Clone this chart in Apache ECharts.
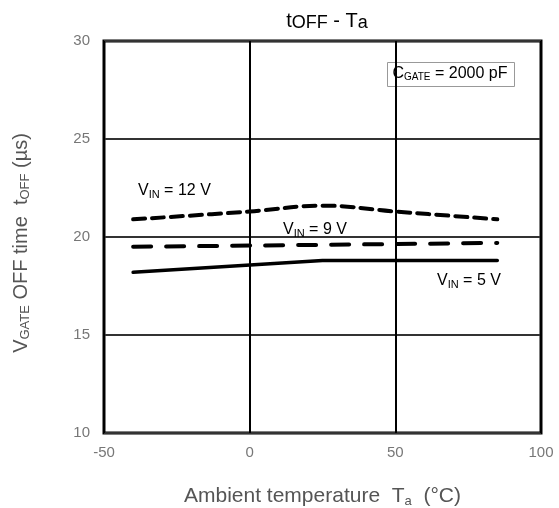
<!DOCTYPE html>
<html><head><meta charset="utf-8">
<script src="https://cdn.jsdelivr.net/npm/echarts@6/dist/echarts.min.js"></script>
<style>html,body{margin:0;padding:0;background:#fff}#c{width:559px;height:508px}</style>
</head><body><div id="c"></div>
<script>
const temps12 = [-40, 0, 25, 50, 85];
const vin12 = [20.9, 21.3, 21.6, 21.3, 20.9];
const temps9 = [-40, 25, 85];
const vin9 = [19.5, 19.6, 19.7];
const temps5 = [-40, 25, 85];
const vin5 = [18.2, 18.8, 18.8];
const xTicks = [-50, 0, 50, 100];
const yTicks = [10, 15, 20, 25, 30];

const F = 'Liberation Sans, Arial, sans-serif';
function pairs(xs, ys){ return xs.map((x,i)=>[x, ys[i]]); }

const chart = echarts.init(document.getElementById('c'), null, {renderer:'canvas'});
const lbl = (txt) => ({
  type:'text', z:100,
  style:{ text: txt, fontFamily:F,
    rich:{ n:{fontSize:16, lineHeight:18, color:'#111', fontFamily:F},
           s:{fontSize:11, lineHeight:11, verticalAlign:'bottom', padding:[11,0,0,0], color:'#111', fontFamily:F} } }
});
chart.setOption({
  animation:false,
  backgroundColor:'#fff',
  title:{
    text:'{n|t}{s|OFF}{n| - T}{s|a}',
    left:322, top:5, textAlign:'center',
    textStyle:{ fontWeight:'normal', rich:{
      n:{fontSize:20, lineHeight:22, color:'#000', fontFamily:F, fontWeight:'normal'},
      s:{fontSize:18, lineHeight:18, verticalAlign:'bottom', padding:[8,0,0,0], color:'#000', fontFamily:F, fontWeight:'normal'}
    }}
  },
  grid:{ left:104, right:18, top:41, bottom:75, outerBoundsMode:'none', containLabel:false,
    show:true, borderColor:'#000', borderWidth:3, backgroundColor:'transparent' },
  xAxis:{
    type:'value', min:xTicks[0], max:xTicks[xTicks.length-1], interval:50,
    axisLine:{show:false}, axisTick:{show:false},
    axisLabel:{ color:'#777', fontSize:15, fontFamily:F, margin:12 },
    splitLine:{ lineStyle:{ color:'#000', width:2 } },
    name:'{n|Ambient temperature  T}{s|a}{n|  (°C)}',
    nameLocation:'middle', nameGap:52,
    nameTextStyle:{ rich:{
      n:{fontSize:21, lineHeight:23, color:'#555', fontFamily:F, letterSpacing:0.6},
      s:{fontSize:13, lineHeight:13, verticalAlign:'bottom', padding:[14,0,0,0], color:'#555', fontFamily:F}
    }}
  },
  yAxis:{
    type:'value', min:yTicks[0], max:yTicks[yTicks.length-1], interval:5,
    axisLine:{show:false}, axisTick:{show:false},
    axisLabel:{ color:'#777', fontSize:15, fontFamily:F, margin:14 },
    splitLine:{ lineStyle:{ color:'#333', width:1.8 } },
    name:'{n|V}{s|GATE}{n| OFF time  t}{s|OFF}{n| (µs)}',
    nameLocation:'middle', nameGap:72, nameRotate:90,
    nameTextStyle:{ padding:[0,12,0,0], rich:{
      n:{fontSize:20, lineHeight:22, color:'#555', fontFamily:F},
      s:{fontSize:13, lineHeight:13, verticalAlign:'bottom', padding:[13,0,0,0], color:'#555', fontFamily:F}
    }}
  },
  series:[
    { name:'VIN = 12 V', type:'line', smooth:0.4, symbol:'none', data:pairs(temps12, vin12),
      lineStyle:{ color:'#000', width:4, type:[12,7], cap:'round' } },
    { name:'VIN = 9 V', type:'line', symbol:'none', data:pairs(temps9, vin9),
      lineStyle:{ color:'#000', width:4, type:[18,15], cap:'round' } },
    { name:'VIN = 5 V', type:'line', symbol:'none', data:pairs(temps5, vin5),
      lineStyle:{ color:'#000', width:3.5, cap:'round' } }
  ],
  graphic:[
    Object.assign(lbl('{n|V}{s|IN}{n| = 12 V}'), {left:138, top:178}),
    Object.assign(lbl('{n|V}{s|IN}{n| = 9 V}'), {left:283, top:217}),
    Object.assign(lbl('{n|V}{s|IN}{n| = 5 V}'), {left:437, top:268}),
    { type:'group', left:387, top:62, z:100, children:[
      { type:'rect', shape:{x:0,y:0,width:127,height:24}, style:{fill:'#fff', stroke:'#999', lineWidth:1} },
      { type:'text', x:5, y:3, style:{ text:'{n|C}{s|GATE}{n| = 2000 pF}',
          rich:{ n:{fontSize:16, lineHeight:17, color:'#111', fontFamily:F},
                 s:{fontSize:10, lineHeight:10, verticalAlign:'bottom', padding:[9,0,0,0], color:'#111', fontFamily:F} } } }
    ]}
  ]
});
</script></body></html>
